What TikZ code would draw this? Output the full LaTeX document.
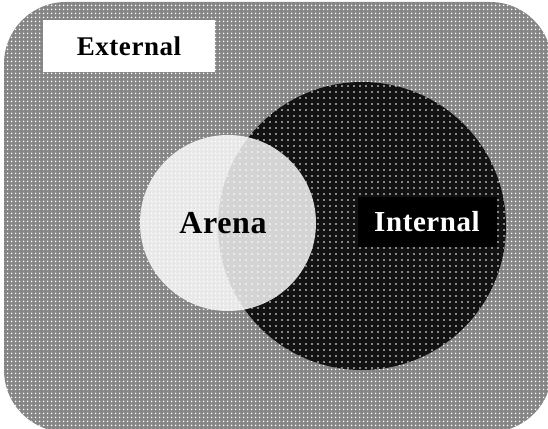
\documentclass[tikz,border=0pt]{standalone}
\usepackage{fontspec}
\setmainfont{Liberation Serif}
\newfontfamily\lblfont[LetterSpace=2]{Liberation Serif}
\usetikzlibrary{patterns.meta}

\begin{document}
\begin{tikzpicture}[x=1pt, y=-1pt,
    lbl/.style={font=\lblfont\bfseries\fontsize{27}{30}\selectfont, inner sep=0pt}]
    \useasboundingbox (0,0) rectangle (548,428);
    \path[fill=black!48, rounded corners=62] (4,2) rectangle (552,432);
    \path[pattern={Dots[distance=4pt, radius=1.1pt]}, pattern color=white, rounded corners=62] (4,2) rectangle (552,432);
    \node[circle, minimum size=288, inner sep=0pt, fill=black!93] (internal) at (362,226) {};
    \path[pattern={Dots[distance=6pt, radius=0.8pt]}, pattern color=white] (internal.center) circle[radius=144];
    \node[circle, minimum size=176, inner sep=0pt, fill=white, fill opacity=0.82, text opacity=1, lbl, font=\lblfont\bfseries\fontsize{32}{36}\selectfont] (arena) at (228,223) {Arena\kern10pt};
    \node[lbl, fill=black, text=white, minimum width=139, minimum height=50, font=\lblfont\bfseries\fontsize{29}{32}\selectfont] (int) at (427,222) {Internal};
    \node[lbl, fill=white, minimum width=172, minimum height=52] (ext) at (129,46) {External};
\end{tikzpicture}
\end{document}
